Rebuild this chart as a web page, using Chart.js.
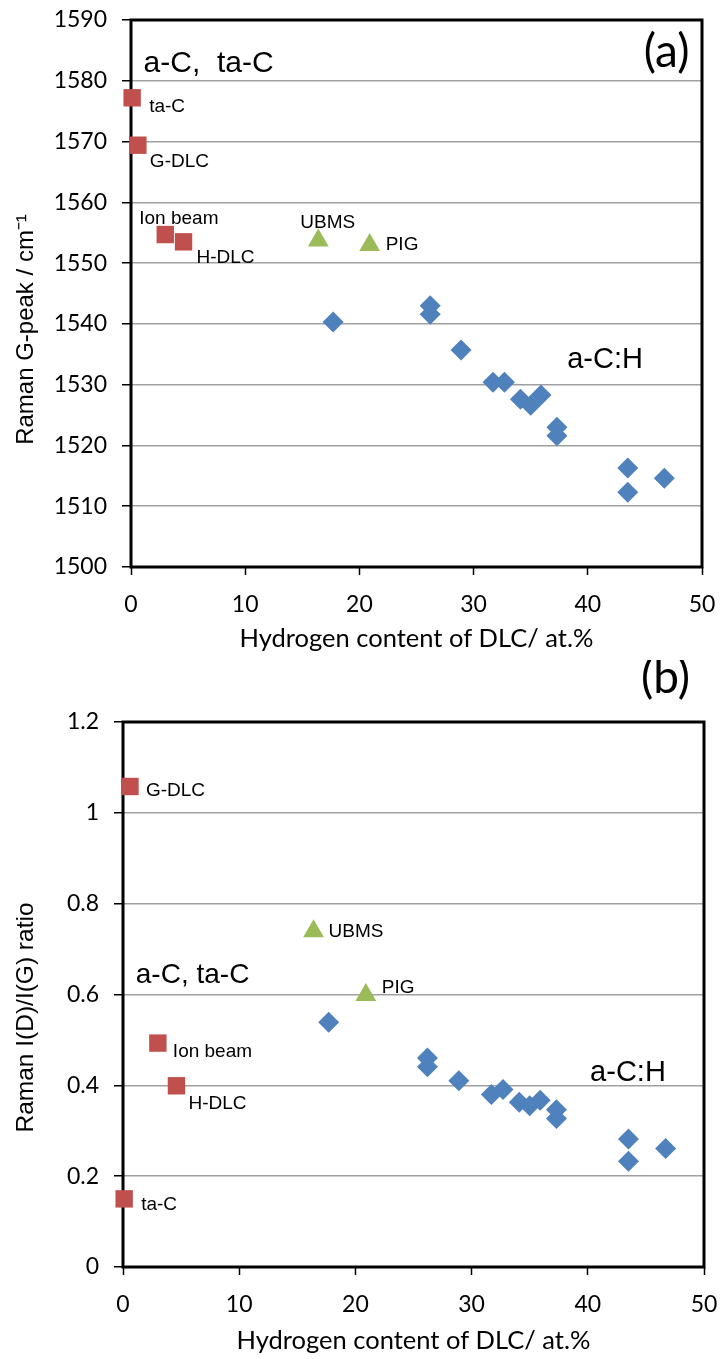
<!DOCTYPE html>
<html>
<head>
<meta charset="utf-8">
<title>Raman G-peak and I(D)/I(G) vs hydrogen content</title>
<script src="https://cdn.jsdelivr.net/npm/chart.js@4.4.1/dist/chart.umd.min.js"></script>
<style>
  html, body { margin: 0; padding: 0; background: #fff; }
  .panel { position: relative; width: 722px; }
  #panelA { height: 660px; }
  #panelB { height: 699px; }
</style>
</head>
<body>
<div class="panel" id="panelA"><canvas id="gpeakChart"></canvas></div>
<div class="panel" id="panelB"><canvas id="ratioChart"></canvas></div>
<script>
// Hydrogen content of each film, at.%
const hydrogenACH = [17.7, 26.2, 26.2, 28.9, 31.7, 32.7, 34.1, 35.0, 35.9, 37.3, 37.3, 43.5, 43.5, 46.7];
const hydrogenHard = [0.1, 0.6, 3.0, 4.6];
const hydrogenPlasma = [16.4, 20.9];
const hardNames = ['ta-C', 'G-DLC', 'Ion beam', 'H-DLC'];
const plasmaNames = ['UBMS', 'PIG'];

// G-peak position, cm-1
const gpeakACH = [1540.3, 1543.0, 1541.6, 1535.7, 1530.4, 1530.4, 1527.6, 1526.6, 1528.3, 1523.0, 1521.6, 1516.3, 1512.3, 1514.6];
const gpeakHard = [1577.2, 1569.4, 1554.7, 1553.5];
const gpeakPlasma = [1553.7, 1553.0];

// I(D)/I(G) intensity ratio
const ratioACH = [0.539, 0.460, 0.441, 0.410, 0.380, 0.391, 0.363, 0.355, 0.367, 0.346, 0.327, 0.282, 0.233, 0.261];
const ratioHard = [0.15, 1.058, 0.493, 0.399];
const ratioPlasma = [0.739, 0.599];

// axis ticks
const hydrogenTicks = [0, 10, 20, 30, 40, 50];
const gpeakTicks = [1500, 1510, 1520, 1530, 1540, 1550, 1560, 1570, 1580, 1590];
const ratioTicks = [0, 0.2, 0.4, 0.6, 0.8, 1, 1.2];

const BLUE = '#4F81BD', RED = '#C0504D', GREEN = '#9BBB59';
const TICK_FONT = { family: 'Lato, "Open Sans", sans-serif', size: 23 };
const ARIAL = 'Arial, "Liberation Sans", sans-serif';

function points(xs, ys) {
  return xs.map((x, i) => ({ x: x, y: ys[i] }));
}

// black box round the plot area, under the markers
const frameBox = {
  id: 'frameBox',
  beforeDatasetsDraw(chart) {
    const { ctx, chartArea: a } = chart;
    ctx.save();
    ctx.strokeStyle = '#000';
    ctx.lineWidth = 3;
    ctx.strokeRect(a.left, a.top, a.right - a.left, a.bottom - a.top);
    ctx.restore();
  }
};

// names next to the red and green markers
const pointNames = {
  id: 'pointNames',
  afterDatasetsDraw(chart, args, opts) {
    const ctx = chart.ctx;
    ctx.save();
    ctx.font = '19px ' + ARIAL;
    ctx.fillStyle = '#000';
    ctx.textAlign = 'left';
    ctx.textBaseline = 'alphabetic';
    chart.data.datasets.forEach((ds, i) => {
      if (!ds.names) return;
      chart.getDatasetMeta(i).data.forEach((pt, j) => {
        const off = opts.offsets[ds.names[j]] || [12, 6];
        ctx.fillText(ds.names[j], pt.x + off[0], pt.y + off[1]);
      });
    });
    ctx.restore();
  }
};

// free text placed in data coordinates, plus the rotated y title
const notes = {
  id: 'notes',
  afterDraw(chart, args, opts) {
    const { ctx, scales } = chart;
    ctx.save();
    ctx.fillStyle = '#000';
    (opts.items || []).forEach(t => {
      ctx.font = t.font;
      ctx.textAlign = t.align || 'left';
      ctx.textBaseline = t.baseline || 'alphabetic';
      ctx.fillText(t.text, scales.x.getPixelForValue(t.x), scales.y.getPixelForValue(t.y));
    });
    if (opts.yTitle) {
      const a = chart.chartArea;
      ctx.font = opts.yTitle.font;
      ctx.textAlign = 'center';
      ctx.textBaseline = 'alphabetic';
      ctx.translate(opts.yTitle.x, (a.top + a.bottom) / 2 + opts.yTitle.shift);
      ctx.rotate(-Math.PI / 2);
      ctx.fillText(opts.yTitle.text, 0, 0);
    }
    ctx.restore();
  }
};

function makeChart(canvasId, s) {
  const marker = { borderWidth: 0, clip: false };
  return new Chart(document.getElementById(canvasId), {
    type: 'scatter',
    data: {
      datasets: [{
        ...marker,
        data: points(hydrogenACH, s.ach),
        pointStyle: 'rectRot',
        pointRadius: 10.5,
        backgroundColor: BLUE
      }, {
        ...marker,
        data: points(hydrogenHard, s.hard),
        names: hardNames,
        pointStyle: 'rect',
        pointRadius: 12.3,
        backgroundColor: RED
      }, {
        ...marker,
        data: points(hydrogenPlasma, s.plasma),
        names: plasmaNames,
        pointStyle: 'triangle',
        pointRadius: 12,
        backgroundColor: GREEN
      }]
    },
    options: {
      responsive: true,
      maintainAspectRatio: false,
      animation: false,
      layout: { padding: { top: s.padTop, right: s.padRight, left: 0, bottom: 0 } },
      plugins: {
        legend: { display: false },
        tooltip: { enabled: false },
        pointNames: { offsets: s.offsets },
        notes: { items: s.notes, yTitle: s.yTitle }
      },
      scales: {
        x: {
          type: 'linear',
          min: 0,
          max: 50,
          afterBuildTicks: axis => { axis.ticks = hydrogenTicks.map(v => ({ value: v })); },
          afterFit: axis => {
            axis.height = s.xAxisHeight;
            axis.paddingLeft = 0;
            axis.paddingRight = 0;
          },
          border: { display: false },
          grid: { drawOnChartArea: false, drawTicks: true, tickLength: 8, tickColor: '#000', tickWidth: 1.5 },
          ticks: { color: '#000', font: TICK_FONT, padding: 16, maxRotation: 0, callback: v => String(v) },
          title: {
            display: true,
            text: 'Hydrogen content of DLC/ at.%',
            color: '#000',
            font: { family: TICK_FONT.family, size: 25.5 },
            padding: { top: 0, bottom: s.xTitlePad }
          }
        },
        y: {
          type: 'linear',
          min: s.yTicks[0],
          max: s.yTicks[s.yTicks.length - 1],
          afterBuildTicks: axis => { axis.ticks = s.yTicks.map(v => ({ value: v })); },
          afterFit: axis => {
            axis.width = s.yAxisWidth;
            axis.paddingTop = 0;
            axis.paddingBottom = 0;
          },
          border: { display: false },
          grid: { color: '#A0A0A0', lineWidth: 1.5, drawTicks: true, tickLength: 9, tickColor: '#000', tickWidth: 1.5 },
          ticks: { color: '#000', font: TICK_FONT, padding: 15, callback: v => String(Math.round(v * 10) / 10) }
        }
      }
    },
    plugins: [frameBox, pointNames, notes]
  });
}

makeChart('gpeakChart', {
  ach: gpeakACH, hard: gpeakHard, plasma: gpeakPlasma,
  yTicks: gpeakTicks,
  padTop: 20, padRight: 20, yAxisWidth: 131, xAxisHeight: 93, xTitlePad: 6,
  offsets: {
    'ta-C': [17, 14], 'G-DLC': [12, 22], 'Ion beam': [-26, -11],
    'H-DLC': [13, 21], 'UBMS': [-18, -13], 'PIG': [16, 5]
  },
  notes: [
    { text: 'a-C,  ta-C', x: 1.1, y: 1581.4, font: '30px ' + ARIAL },
    { text: 'a-C:H', x: 38.2, y: 1532.8, font: '29px ' + ARIAL },
    { text: '(a)', x: 48.9, y: 1584.7, font: '46px ' + TICK_FONT.family, align: 'right', baseline: 'middle' }
  ],
  yTitle: { text: 'Raman G-peak / cm\u207B\u00B9', x: 33, shift: 36, font: '24px ' + ARIAL }
});

makeChart('ratioChart', {
  ach: ratioACH, hard: ratioHard, plasma: ratioPlasma,
  yTicks: ratioTicks,
  padTop: 62, padRight: 18, yAxisWidth: 123, xAxisHeight: 92, xTitlePad: 3,
  offsets: {
    'ta-C': [17, 11], 'G-DLC': [16, 10], 'Ion beam': [15, 14],
    'H-DLC': [12, 23], 'UBMS': [15, 6], 'PIG': [16, -2]
  },
  notes: [
    { text: 'a-C, ta-C', x: 1.1, y: 0.625, font: '28px ' + ARIAL },
    { text: 'a-C:H', x: 40.2, y: 0.41, font: '29px ' + ARIAL },
    { text: '(b)', x: 48.8, y: 1.297, font: '46px ' + TICK_FONT.family, align: 'right', baseline: 'middle' }
  ],
  yTitle: { text: 'Raman I(D)/I(G) ratio', x: 33, shift: 23, font: '24.5px ' + ARIAL }
});
</script>
</body>
</html>
